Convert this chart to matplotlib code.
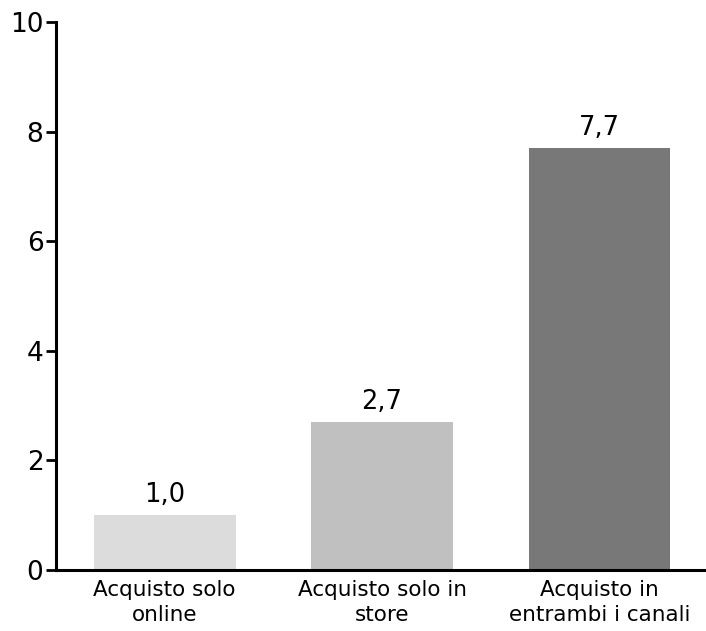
import matplotlib
matplotlib.use("Agg")
import matplotlib.pyplot as plt

categories = ["Acquisto solo\nonline", "Acquisto solo in\nstore", "Acquisto in\nentrambi i canali"]
values = [1.0, 2.7, 7.7]
colors = ["#dcdcdc", "#c0c0c0", "#787878"]
yticks = [0, 2, 4, 6, 8, 10]

plt.rcParams["font.family"] = ["DejaVu Sans"]

fig = plt.figure(figsize=(7.06, 6.31), dpi=100)
ax = fig.add_axes([56 / 706, 61 / 631, 1 - 56 / 706, 548 / 631])

x = list(range(len(categories)))
bars = ax.bar(x, values, width=0.653, color=colors)

for xi, v in zip(x, values):
    ax.text(xi, v + 0.13, f"{v:.1f}".replace(".", ","), ha="center", va="bottom", fontsize=18.5)

ax.set_xlim(-0.5, 2.49)
ax.set_ylim(0, 10)
ax.set_yticks(yticks)
ax.set_yticklabels([str(t) for t in yticks], fontsize=19)
ax.set_xticks(x)
ax.set_xticklabels(categories, fontsize=15.5, linespacing=1.3)
ax.tick_params(axis="x", length=0, pad=7)
ax.tick_params(axis="y", length=7, width=2, pad=2)

for side in ["top", "right"]:
    ax.spines[side].set_visible(False)
for side in ["left", "bottom"]:
    ax.spines[side].set_linewidth(2.2)

fig.savefig("out.png", dpi=100)
